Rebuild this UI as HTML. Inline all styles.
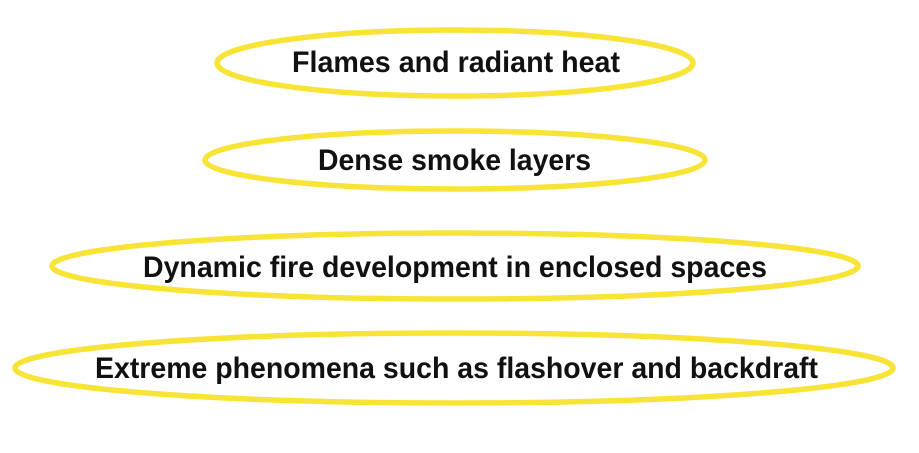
<!DOCTYPE html>
<html><head><style>html,body{margin:0;padding:0;background:#fff;}svg{display:block;}</style></head>
<body>
<svg width="919" height="453" xmlns="http://www.w3.org/2000/svg">
<g fill="none" stroke="#f8e437" stroke-width="5.5">
<ellipse cx="455" cy="63" rx="238" ry="33"/>
<ellipse cx="455" cy="160" rx="250" ry="29"/>
<ellipse cx="455" cy="266" rx="403" ry="33"/>
<ellipse cx="454" cy="368" rx="439" ry="35"/>
</g>
<g font-family="Liberation Sans, sans-serif" font-weight="bold" font-size="30" fill="#111">
<text x="292" y="72" textLength="328" lengthAdjust="spacingAndGlyphs">Flames and radiant heat</text>
<text x="318" y="170" textLength="273" lengthAdjust="spacingAndGlyphs">Dense smoke layers</text>
<text x="143" y="277" textLength="624" lengthAdjust="spacingAndGlyphs">Dynamic fire development in enclosed spaces</text>
<text x="95" y="378" textLength="723" lengthAdjust="spacingAndGlyphs">Extreme phenomena such as flashover and backdraft</text>
</g>
</svg>
</body></html>
